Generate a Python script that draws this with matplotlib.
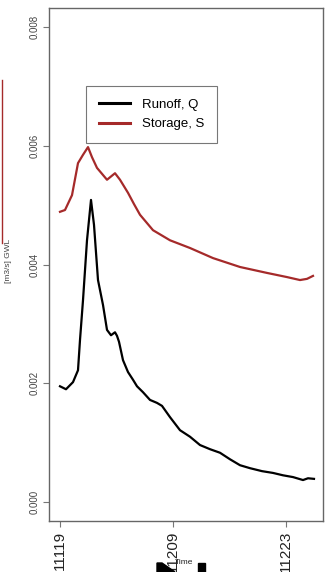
import matplotlib
matplotlib.use("Agg")
import matplotlib.pyplot as plt
from matplotlib.patches import Polygon, Rectangle
from matplotlib.lines import Line2D

plt.rcParams['font.family'] = ['Liberation Sans', 'DejaVu Sans']

# ---- data ----
time_q = [0, 6, 13, 18, 20, 23, 27, 31, 34, 38, 43, 47, 51, 55, 57, 59, 63, 68, 73, 77,
          83, 90, 97, 102, 110, 120, 130, 140, 150, 160, 170, 180, 190, 202, 213, 223,
          233, 243, 248, 254]
runoff_q = [0.00195, 0.00190, 0.00202, 0.00222, 0.00273, 0.00340, 0.00441, 0.00509,
            0.00467, 0.00374, 0.00332, 0.00290, 0.00281, 0.00286, 0.00280, 0.00270,
            0.00239, 0.00219, 0.00206, 0.00195, 0.00185, 0.00172, 0.00167, 0.00162,
            0.00143, 0.00121, 0.00110, 0.00096, 0.00089, 0.00083, 0.00072, 0.00062,
            0.00057, 0.00052, 0.00049, 0.00045, 0.00042, 0.00037, 0.00040, 0.00039]

time_s = [0, 5, 12, 18, 23, 28, 32, 37, 42, 47, 55, 60, 68, 74, 80, 93, 110, 130, 153,
          180, 207, 227, 240, 247, 253]
storage_s = [0.00489, 0.00492, 0.00517, 0.00571, 0.00585, 0.00598, 0.00581, 0.00563,
             0.00553, 0.00543, 0.00554, 0.00543, 0.00521, 0.00502, 0.00484, 0.00458,
             0.00441, 0.00428, 0.00411, 0.00396, 0.00386, 0.00379, 0.00374, 0.00376,
             0.00381]

x_tick_pos = [0, 113, 226]
x_tick_labels = ["11119", "11209", "11223"]
y_ticks = [0.000, 0.002, 0.004, 0.006, 0.008]
y_tick_labels = ["0.000", "0.002", "0.004", "0.006", "0.008"]
series_names = ["Runoff, Q", "Storage, S"]

# ---- figure ----
fig = plt.figure(figsize=(3.25, 5.72), dpi=100)
ax = fig.add_axes([49/325, 51/572, 274/325, 513/572])

ax.plot(time_q, runoff_q, color="black", lw=1.6, label=series_names[0])
ax.plot(time_s, storage_s, color="#A52A2A", lw=1.6, label=series_names[1])

ax.set_xlim(-11, 263)
ax.set_ylim(-0.00032, 0.008324)

ax.set_xticks(x_tick_pos)
ax.set_xticklabels(x_tick_labels, rotation=90, fontsize=11, color="#222222")
ax.set_yticks(y_ticks)
ax.set_yticklabels(y_tick_labels, rotation=90, fontsize=7, color="#444444", va="center")
ax.tick_params(axis="both", direction="out", length=4, width=0.8, color="#777777")
ax.tick_params(axis="x", pad=3)
ax.tick_params(axis="y", pad=3)
for s in ax.spines.values():
    s.set_color("#666666")
    s.set_linewidth(1.0)

leg = ax.legend(loc="upper left", bbox_to_anchor=((86-49)/274, (521-86)/513),
                frameon=True, fancybox=False, fontsize=9.5, handlelength=2.4,
                handletextpad=0.9, borderpad=0.95, labelspacing=0.55,
                borderaxespad=0)
leg.get_frame().set_edgecolor("#555555")
leg.get_frame().set_linewidth(0.8)
for h in leg.get_lines():
    h.set_linewidth(2.2)

# axis labels
fig.text(9/325, 1 - 261/572, "[m3/s] GWL", rotation=90, fontsize=6, color="#444444",
         ha="center", va="center")
fig.text(184/325, 1 - 563/572, "Time", fontsize=6, color="#222222",
         ha="center", va="center")

# stray marks at the edges of the picture
fig.add_artist(Line2D([2/325, 2/325], [1 - 80/572, 1 - 243/572], color="#A52A2A",
                      lw=1.0, transform=fig.transFigure))
fig.add_artist(Polygon([[157/325, 1 - 563/572], [162/325, 1 - 563/572],
                        [175/325, 1 - 572/572], [157/325, 1 - 572/572]],
                       closed=True, color="black", transform=fig.transFigure))
fig.add_artist(Rectangle((198/325, 0), 7/325, 9/572, color="black",
                         transform=fig.transFigure))

fig.savefig("out.png", dpi=100)
